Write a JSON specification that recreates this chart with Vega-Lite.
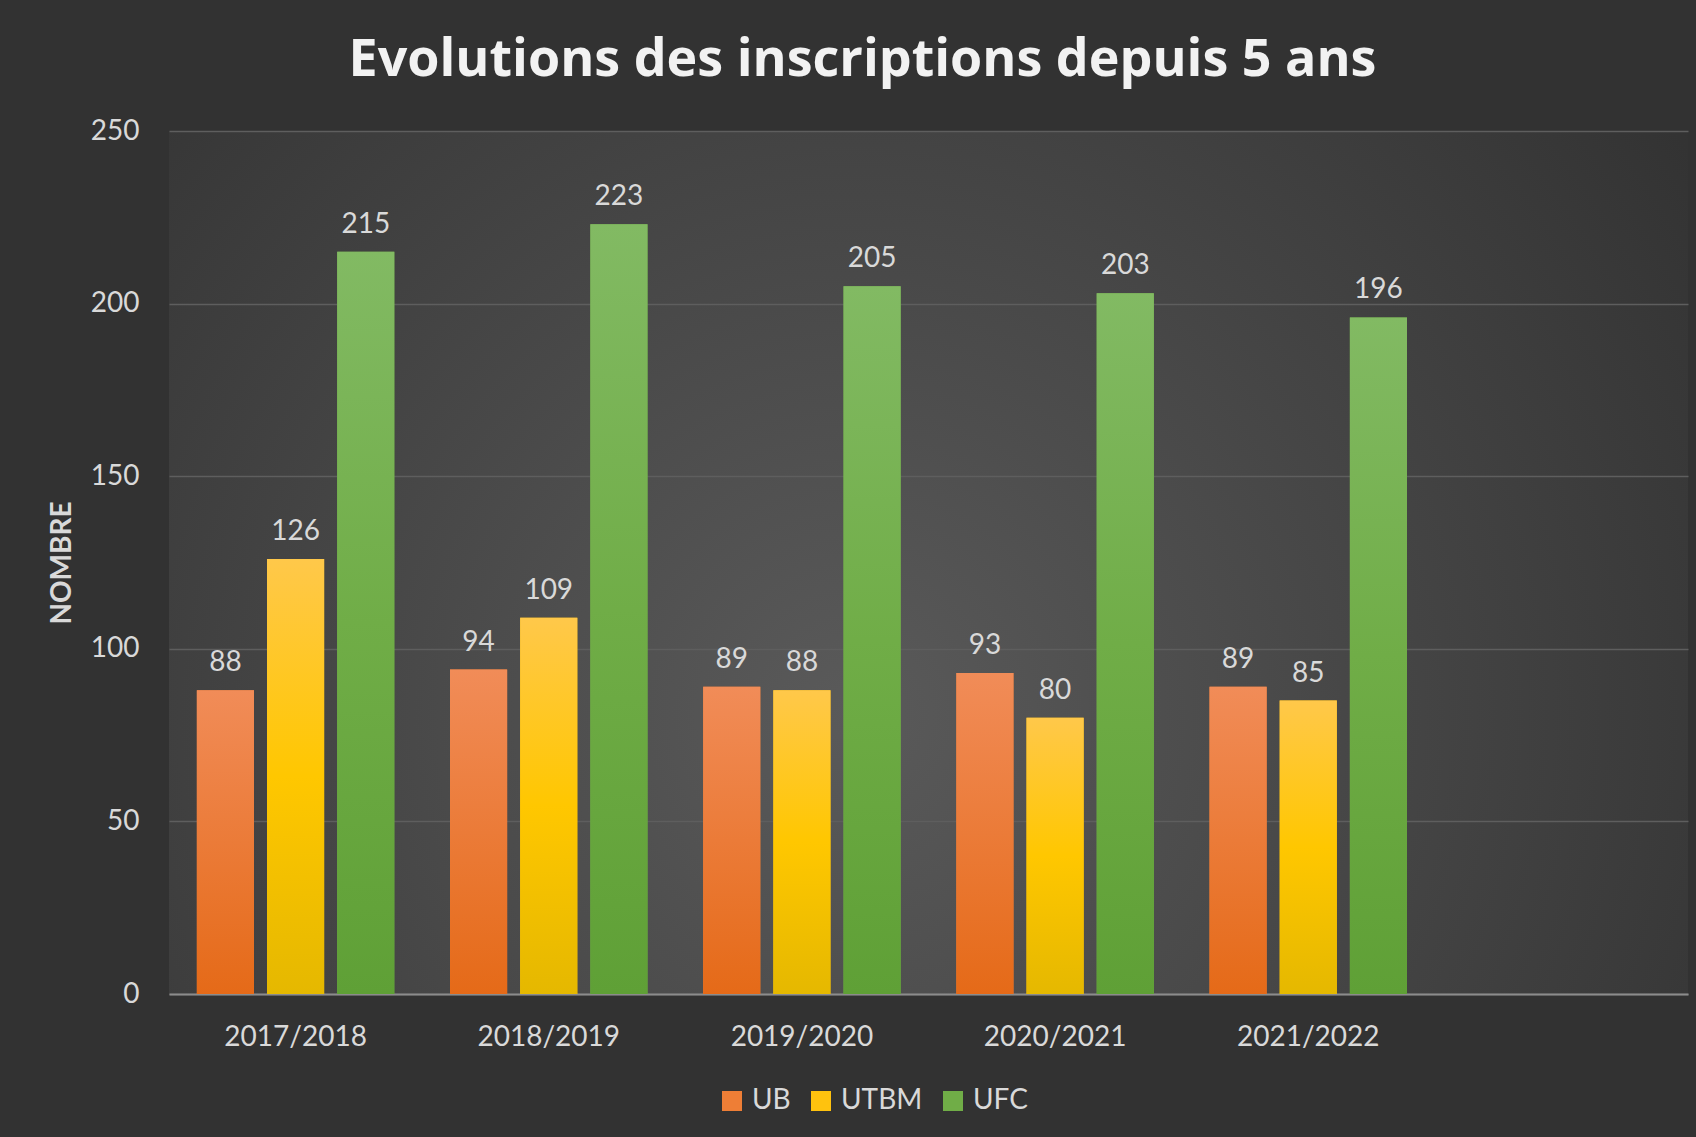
{
  "$schema": "https://vega.github.io/schema/vega-lite/v6.json",
  "width": 1519,
  "height": 863,
  "autosize": {"type": "none"},
  "padding": {"left": 169, "top": 131, "right": 8, "bottom": 143},
  "background": "#323232",
  "title": {
    "text": "Evolutions des inscriptions depuis 5 ans",
    "font": "Open Sans",
    "fontSize": 52,
    "fontWeight": "bold",
    "color": "#f2f2f2",
    "anchor": "middle",
    "dx": -66,
    "offset": 30
  },
  "data": {
    "values": [
      {"annee": "2017/2018", "univ": "UB", "nombre": 88},
      {"annee": "2017/2018", "univ": "UTBM", "nombre": 126},
      {"annee": "2017/2018", "univ": "UFC", "nombre": 215},
      {"annee": "2018/2019", "univ": "UB", "nombre": 94},
      {"annee": "2018/2019", "univ": "UTBM", "nombre": 109},
      {"annee": "2018/2019", "univ": "UFC", "nombre": 223},
      {"annee": "2019/2020", "univ": "UB", "nombre": 89},
      {"annee": "2019/2020", "univ": "UTBM", "nombre": 88},
      {"annee": "2019/2020", "univ": "UFC", "nombre": 205},
      {"annee": "2020/2021", "univ": "UB", "nombre": 93},
      {"annee": "2020/2021", "univ": "UTBM", "nombre": 80},
      {"annee": "2020/2021", "univ": "UFC", "nombre": 203},
      {"annee": "2021/2022", "univ": "UB", "nombre": 89},
      {"annee": "2021/2022", "univ": "UTBM", "nombre": 85},
      {"annee": "2021/2022", "univ": "UFC", "nombre": 196}
    ]
  },
  "encoding": {
    "x": {
      "field": "annee",
      "type": "nominal",
      "title": null,
      "scale": {
        "domain": ["2017/2018", "2018/2019", "2019/2020", "2020/2021", "2021/2022", " "],
        "paddingInner": 0.22,
        "paddingOuter": 0.11
      },
      "axis": {
        "labelAngle": 0,
        "labelFont": "Lato",
        "labelFontSize": 28,
        "labelColor": "#d9d9d9",
        "labelPadding": 29,
        "ticks": false,
        "domainColor": "#8c8c8c",
        "domainWidth": 2,
        "grid": false
      }
    },
    "xOffset": {
      "field": "univ",
      "type": "nominal",
      "scale": {"domain": ["UB", "UTBM", "UFC"], "paddingInner": 0.186, "paddingOuter": 0}
    },
    "y": {
      "field": "nombre",
      "type": "quantitative",
      "scale": {"domain": [0, 250], "nice": false},
      "axis": {
        "title": "NOMBRE",
        "titleFont": "Lato",
        "titleFontSize": 28,
        "titleFontWeight": "bold",
        "titleColor": "#d9d9d9",
        "titlePadding": 14,
        "values": [0, 50, 100, 150, 200, 250],
        "labelFont": "Lato",
        "labelFontSize": 28,
        "labelColor": "#d9d9d9",
        "labelPadding": 30,
        "domain": false,
        "ticks": false,
        "gridColor": "#5e5e5e",
        "gridWidth": 1.5
      }
    }
  },
  "layer": [
    {
      "mark": {"type": "bar"},
      "encoding": {
        "color": {
          "field": "univ",
          "type": "nominal",
          "scale": {"domain": ["UB", "UTBM", "UFC"], "range": ["#EE7E36", "#FFC20E", "#70AD47"]},
          "legend": {
            "orient": "none",
            "legendX": 549,
            "legendY": 956,
            "direction": "horizontal",
            "title": null,
            "labelFont": "Lato",
            "labelFontSize": 28,
            "labelColor": "#d9d9d9",
            "symbolType": "square",
            "symbolSize": 400,
            "symbolStrokeWidth": 0,
            "symbolOpacity": 1,
            "columnPadding": 16,
            "labelOffset": 6
          }
        }
      }
    },
    {
      "transform": [{"filter": "datum.univ === 'UB'"}],
      "mark": {"type": "bar", "color": {"gradient": "linear", "x1": 0, "y1": 0, "x2": 0, "y2": 1, "stops": [{"offset": 0, "color": "#F18C58"}, {"offset": 1, "color": "#E56A18"}]}},
      "encoding": {}
    },
    {
      "transform": [{"filter": "datum.univ === 'UTBM'"}],
      "mark": {"type": "bar", "color": {"gradient": "linear", "x1": 0, "y1": 0, "x2": 0, "y2": 1, "stops": [{"offset": 0, "color": "#FFC84A"}, {"offset": 0.5, "color": "#FFC700"}, {"offset": 1, "color": "#E5B800"}]}},
      "encoding": {}
    },
    {
      "transform": [{"filter": "datum.univ === 'UFC'"}],
      "mark": {"type": "bar", "color": {"gradient": "linear", "x1": 0, "y1": 0, "x2": 0, "y2": 1, "stops": [{"offset": 0, "color": "#82BA63"}, {"offset": 0.5, "color": "#70AD47"}, {"offset": 1, "color": "#5FA036"}]}},
      "encoding": {}
    },
    {
      "mark": {"type": "text", "dy": -19, "baseline": "alphabetic", "font": "Lato", "fontSize": 28, "color": "#d9d9d9"},
      "encoding": {"text": {"field": "nombre", "type": "quantitative"}}
    }
  ],
  "config": {
    "view": {
      "stroke": null,
      "fill": {
        "gradient": "radial",
        "x1": 0.45, "y1": 0.6, "r1": 0,
        "x2": 0.45, "y2": 0.6, "r2": 0.75,
        "stops": [{"offset": 0, "color": "#5a5a5a"}, {"offset": 1, "color": "#2e2e2e"}]
      }
    }
  }
}
